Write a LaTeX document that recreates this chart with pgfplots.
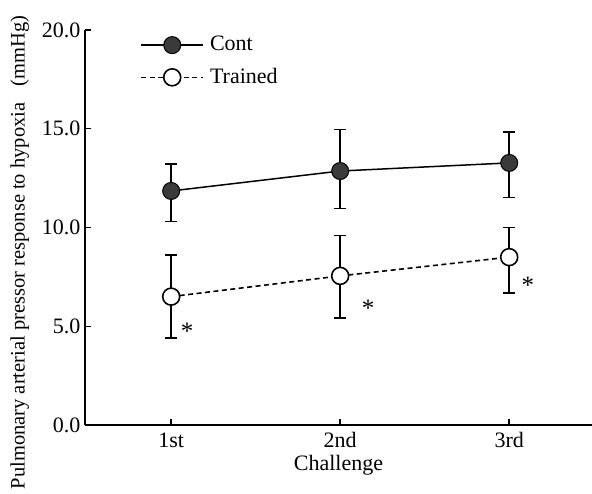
\documentclass[border=0pt]{standalone}
\usepackage{fontspec}
\setmainfont{Liberation Serif}
\usepackage{pgfplots}
\pgfplotsset{compat=1.18}
\definecolor{markgray}{HTML}{3A3A3A}
\begin{document}
\fontsize{22}{26}\selectfont
\begin{tikzpicture}
\path[use as bounding box] (-85pt,-68pt) rectangle (507pt,425pt);
\begin{axis}[
  scale only axis, width=507pt, height=395pt,
  xmin=0.49, xmax=3.49, ymin=0, ymax=20,
  axis x line=bottom, axis y line=left,
  axis line style={-, line width=1.6pt, black},
  xtick={1,2,3}, xticklabels={1st,2nd,3rd},
  ytick={0,5,10,15,20},
  yticklabel style={xshift=3pt, /pgf/number format/.cd, fixed, fixed zerofill, precision=1, assume math mode=true},
  tick align=inside, major tick length=6pt,
  tick style={line width=1.4pt, black},
  tick label style={font=\fontsize{22}{26}\selectfont},
  xlabel style={font=\fontsize{22}{26}\selectfont, yshift=8pt},
  ylabel style={font=\fontsize{20.5}{24}\selectfont, at={(ticklabel cs:0.437)}, yshift=-2pt},
  xlabel={Challenge},
  ylabel={Pulmonary arterial pressor response to hypoxia\hspace{0.8em}(mmHg)},
  legend style={at={(rel axis cs:0.103,0.995)}, anchor=north west, draw=none, fill=none,
    font=\fontsize{22}{26}\selectfont, row sep=10pt, nodes={inner xsep=6pt}},
  legend cell align=left,
  every axis plot/.append style={legend image code/.code={\draw[mark repeat=2,mark phase=2,##1] plot coordinates {(0pt,0pt) (31pt,0pt) (62pt,0pt)};}},
]
\addplot[black, line width=1.5pt, mark=*, mark size=8.5pt,
  mark options={solid, fill=markgray, draw=black, line width=1pt},
  error bars/.cd, y dir=both, y explicit,
  error bar style={line width=1.8pt, black},
  error mark options={rotate=90, mark size=6pt, line width=1.8pt}]
coordinates {
 (1,11.85) += (0,1.35) -= (0,1.55)
 (2,12.86) += (0,2.10) -= (0,1.90)
 (3,13.27) += (0,1.55) -= (0,1.75)
};
\addlegendentry{Cont}
\addplot[black, line width=1.6pt, dash pattern=on 5pt off 3.5pt, mark=*, mark size=8.5pt,
  mark options={solid, fill=white, draw=black, line width=1.6pt},
  error bars/.cd, y dir=both, y explicit,
  error bar style={line width=1.8pt, black, solid},
  error mark options={rotate=90, mark size=6pt, line width=1.8pt, solid}]
coordinates {
 (1,6.50) += (0,2.10) -= (0,2.10)
 (2,7.55) += (0,2.05) -= (0,2.15)
 (3,8.50) += (0,1.50) -= (0,1.80)
};
\addlegendentry{Trained}
\node[font=\fontsize{25}{26}\selectfont] at (axis cs:1.095,4.75) {*};
\node[font=\fontsize{25}{26}\selectfont] at (axis cs:2.166,5.93) {*};
\node[font=\fontsize{25}{26}\selectfont] at (axis cs:3.11,7.09) {*};
\end{axis}
\end{tikzpicture}
\end{document}
